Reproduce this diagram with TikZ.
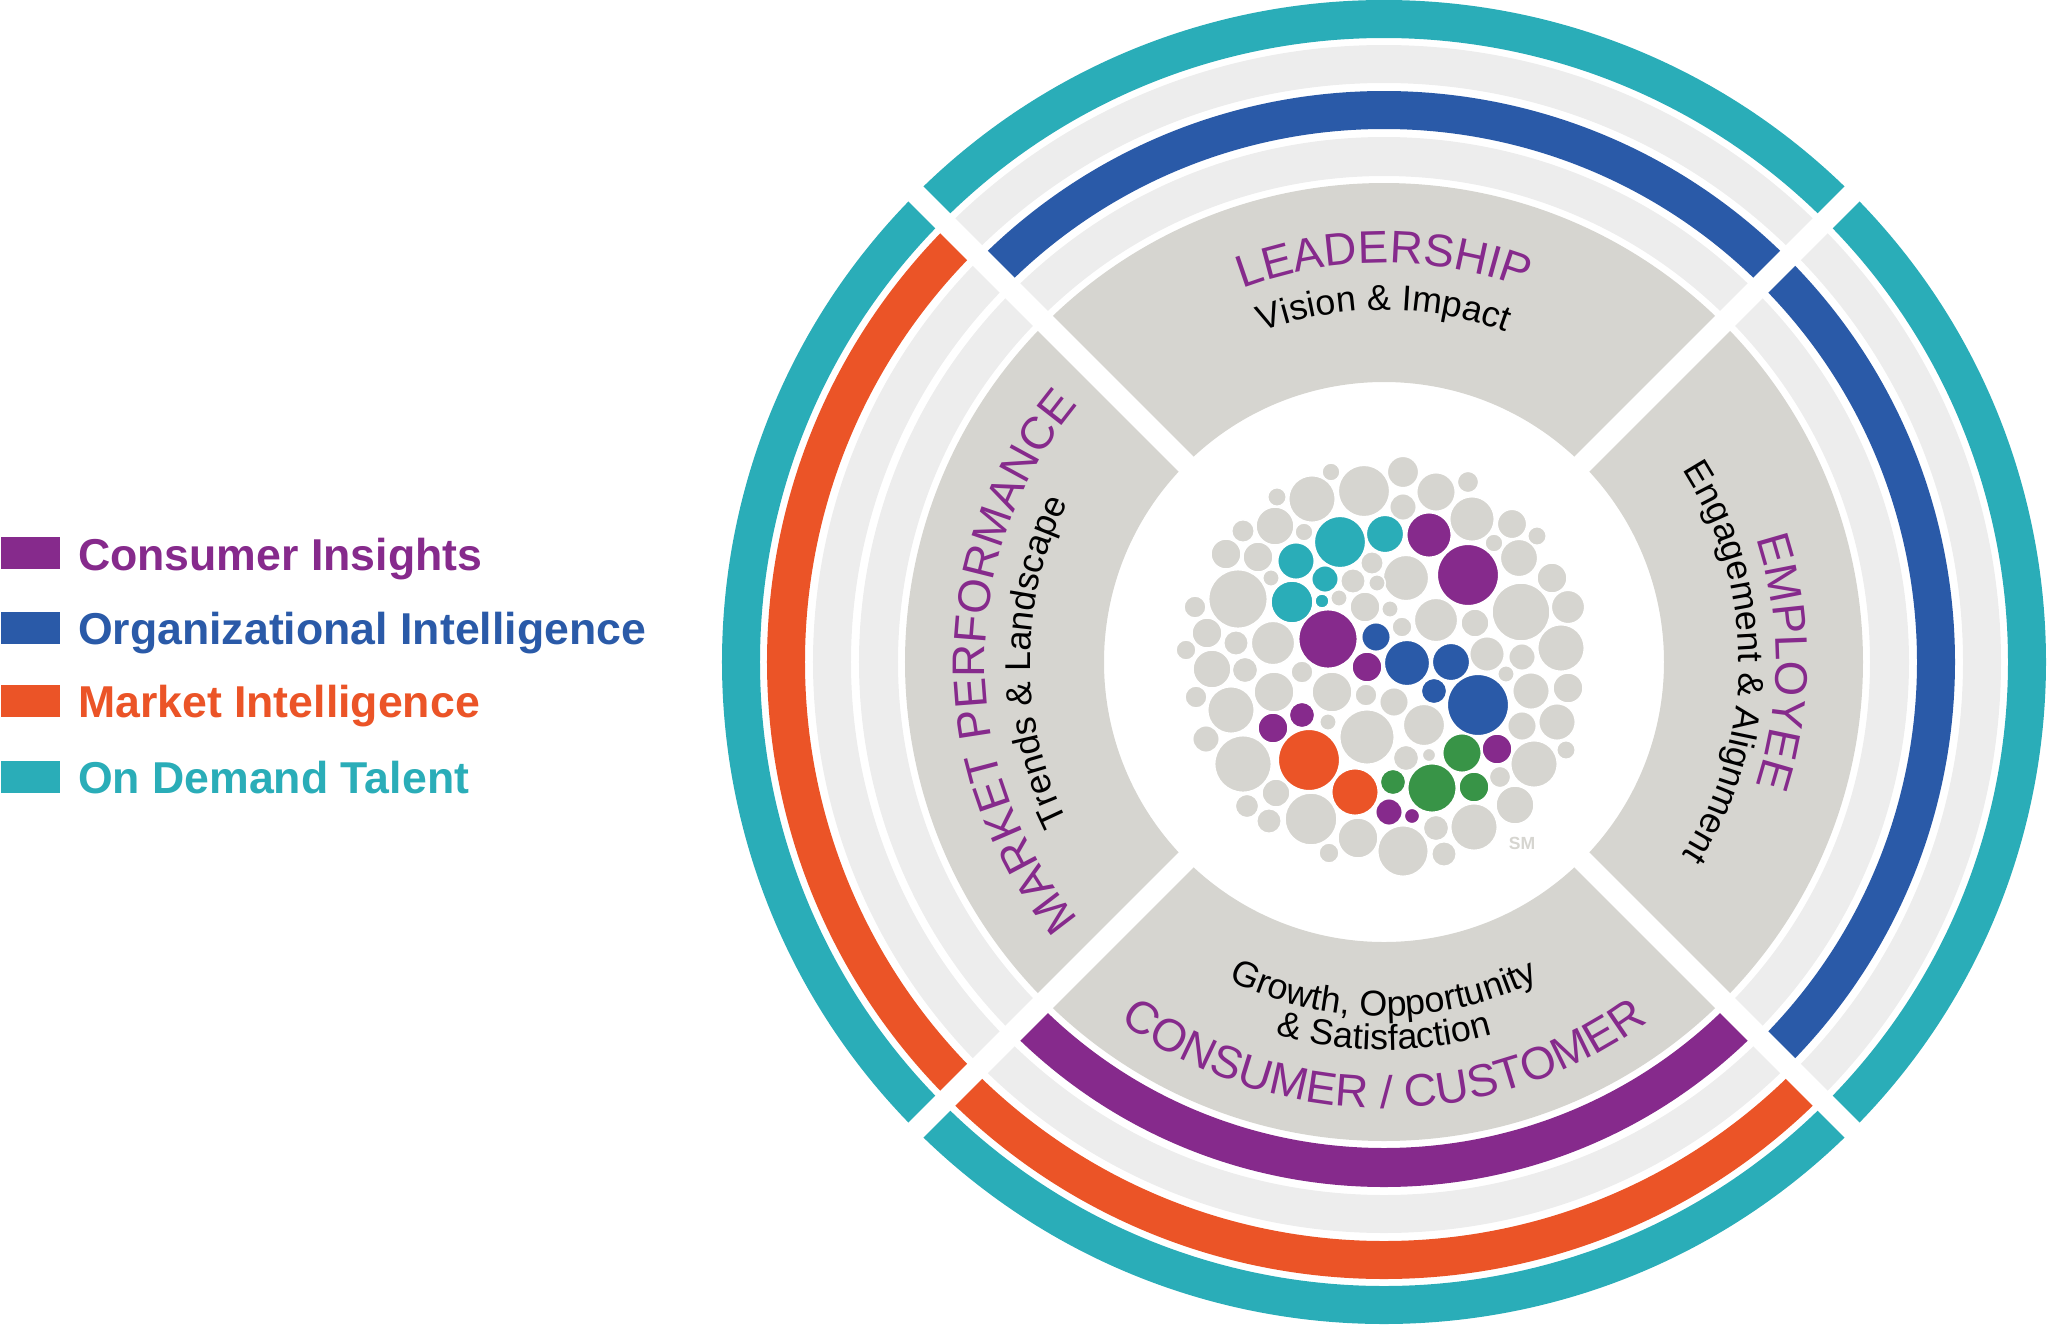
\documentclass[tikz,border=0pt]{standalone}
\usepackage{fontspec}
\setmainfont{Liberation Sans}
\usepackage{xcolor}
\definecolor{cTeal}{HTML}{2AADB8}
\definecolor{cBlue}{HTML}{2A5AA8}
\definecolor{cOrange}{HTML}{EB5427}
\definecolor{cPurple}{HTML}{862A8C}
\definecolor{cGreen}{HTML}{389447}
\definecolor{cSector}{HTML}{D6D5D0}
\definecolor{cRing}{HTML}{EDEDED}
\definecolor{cBubble}{HTML}{D6D5D0}
\usetikzlibrary{positioning,decorations.text}
\newcommand{\titlefont}{\fontsize{13}{15}\selectfont}
\newcommand{\subfont}{\fontsize{10.2}{12}\selectfont}
% one quarter of a ring: colour, inner radius, outer radius, start angle
\newcommand{\ringpart}[4]{%
  \fill[#1] (#4:#2) arc[start angle=#4,delta angle=90,radius=#2]
    -- ({#4+90}:#3) arc[start angle={#4+90},delta angle=-90,radius=#3] -- cycle;}
\tikzset{
  leg-box/.style={minimum width=5.9mm,minimum height=3.2mm,inner sep=0pt},
  leg-text/.style={font=\bfseries\fontsize{12.7}{15}\selectfont,inner sep=0pt,anchor=base west},
  gap-line/.style={draw=white,line width=2.1mm},
  bubble/.style={draw=white,line width=0.15mm},
  arc-title/.style={decorate,decoration={text along path,text align=center,
    text color=cPurple,text={|\titlefont|#1}}},
  arc-sub/.style={decorate,decoration={text along path,text align=center,
    text color=black,text={|\subfont|#1}}},
}

\begin{document}
\begin{tikzpicture}[x=0.1mm,y=0.1mm]
  \useasboundingbox (-1384,-664) rectangle (664,662);

  % legend
  \node[leg-box,fill=cPurple,anchor=south west] (ci-box) at (-1384,92) {};
  \node[leg-box,fill=cBlue,below=4.1mm of ci-box] (oi-box) {};
  \node[leg-box,fill=cOrange,below=4mm of oi-box] (mi-box) {};
  \node[leg-box,fill=cTeal,below=4.2mm of mi-box] (odt-box) {};
  \node[leg-text,text=cPurple] (ci-text) at ([xshift=1.7mm]ci-box.south east) {Consumer Insights};
  \node[leg-text,text=cBlue] (oi-text) at ([xshift=1.7mm]oi-box.south east) {Organizational Intelligence};
  \node[leg-text,text=cOrange] (mi-text) at ([xshift=1.7mm]mi-box.south east) {Market Intelligence};
  \node[leg-text,text=cTeal] (odt-text) at ([xshift=1.7mm]odt-box.south east) {On Demand Talent};

  % quadrants and rings: top, left, bottom, right
  \foreach \a/\ca/\cb/\cc in {45/cRing/cBlue/cRing,135/cRing/cRing/cOrange,
      225/cPurple/cRing/cOrange,315/cRing/cBlue/cRing}{
    \ringpart{cSector}{280}{479}{\a}
    \ringpart{\ca}{486}{525}{\a}
    \ringpart{\cb}{533}{571}{\a}
    \ringpart{\cc}{579}{617}{\a}
    \ringpart{cTeal}{624}{662}{\a}
  }
  \foreach \a in {45,135,225,315}
    \draw[gap-line] (\a:270) -- (\a:680);

  % quadrant labels
  \path[arc-title=LEADERSHIP] (130:399) arc[start angle=130,end angle=50,radius=399];
  \path[arc-sub={Vision {\&} Impact}] (130:352) arc[start angle=130,end angle=50,radius=352];
  \path[arc-title={MARKET PERFORMANCE}] (230:399) arc[start angle=230,end angle=130,radius=399];
  \path[arc-sub={Trends {\&} Landscape}] (220:354) arc[start angle=220,end angle=140,radius=354];
  \path[arc-title=EMPLOYEE] (40:392) arc[start angle=40,end angle=-40,radius=392];
  \path[arc-sub={Engagement {\&} Alignment}] (45:355) arc[start angle=45,end angle=-45,radius=355];
  \path[arc-sub={Growth, Opportunity}] (220:354) arc[start angle=220,end angle=320,radius=354];
  \path[arc-sub={{\&} Satisfaction}] (225:388) arc[start angle=225,end angle=315,radius=388];
  \path[arc-title={CONSUMER / CUSTOMER}] (210:446) arc[start angle=210,end angle=330,radius=446];

  % bubble cluster
  \foreach \x/\y/\r in {-53/190/9,-20/171/25.7,19/190/15.7,52/170/19.3,84/180/10.7,
      -107/165/9.3,-72/163/23.3,19/155/13.3,88/143/22.3,-109/136/19,-141/131/11.3,
      -80/130/9,128/138/14.7,153/126/9.3,110/119/9,-158/108/15,-126/105/15,
      -12/99/11.3,22/84/22.7,135/104/18.7,168/84/15,-146/63/29.3,-113/84/8.3,
      -31/81/12.3,-7/79/8.3,-45/64/8.3,-19/55/15,6/53/8.3,52/42/21.7,137/50/29,
      91/39/14,184/55/16.7,-189/55/11,-177/29/15,-148/19/12.3,-111/19/21.7,
      18/35/10,103/8/17.3,138/5/13.3,177/14/23.3,-198/12/10,-172/-7/19,
      -139/-8/12.7,-82/-10/11,-110/-30/20,-52/-30/20,-18/-33/11,122/-12/8.3,
      147/-29/18.3,184/-26/15,-188/-35/11,-153/-48/23.3,10/-40/14.3,-56/-60/8.3,
      -17/-75/27.3,40/-63/20.7,173/-60/18.3,138/-64/14.3,-178/-77/13.3,
      -141/-102/28.3,22/-96/12.7,45/-93/6.7,182/-88/9.3,150/-102/23.3,
      116/-115/10.7,-108/-131/14,-137/-144/11.7,-115/-159/12.3,-73/-157/26,
      131/-143/19,90/-165/23.3,52/-166/12.7,-26/-176/20,19/-189/25.3,
      60/-192/12.3,-55/-191/10}
    \fill[bubble,fill=cBubble] (\x,\y) circle[radius=\r];
  \foreach \x/\y/\r/\c in {-44/120/25.7/cTeal,1/128/18.7/cTeal,-88/101/18.3/cTeal,
      -59/83/13.3/cTeal,-92/60/21/cTeal,-62/61/7/cTeal,
      45/127/22.3/cPurple,84/87/30.7/cPurple,-56/23/29.3/cPurple,-17/-5/15/cPurple,
      -82/-53/12.7/cPurple,-111/-66/15/cPurple,113/-87/15/cPurple,
      5/-150/13.3/cPurple,28/-154/7.7/cPurple,
      -8/25/14.3/cBlue,23/-1/22.7/cBlue,67/0/18.7/cBlue,50/-29/12.7/cBlue,94/-43/30.7/cBlue,
      -75/-98/30.7/cOrange,-29/-130/23.3/cOrange,
      78/-91/19.3/cGreen,9/-120/12.7/cGreen,48/-126/24.3/cGreen,90/-125/15/cGreen}
    \fill[bubble,fill=\c] (\x,\y) circle[radius=\r];
  \node[font=\bfseries\fontsize{5}{6}\selectfont,text=cBubble] (sm) at (138,-181) {SM};
\end{tikzpicture}
\end{document}
